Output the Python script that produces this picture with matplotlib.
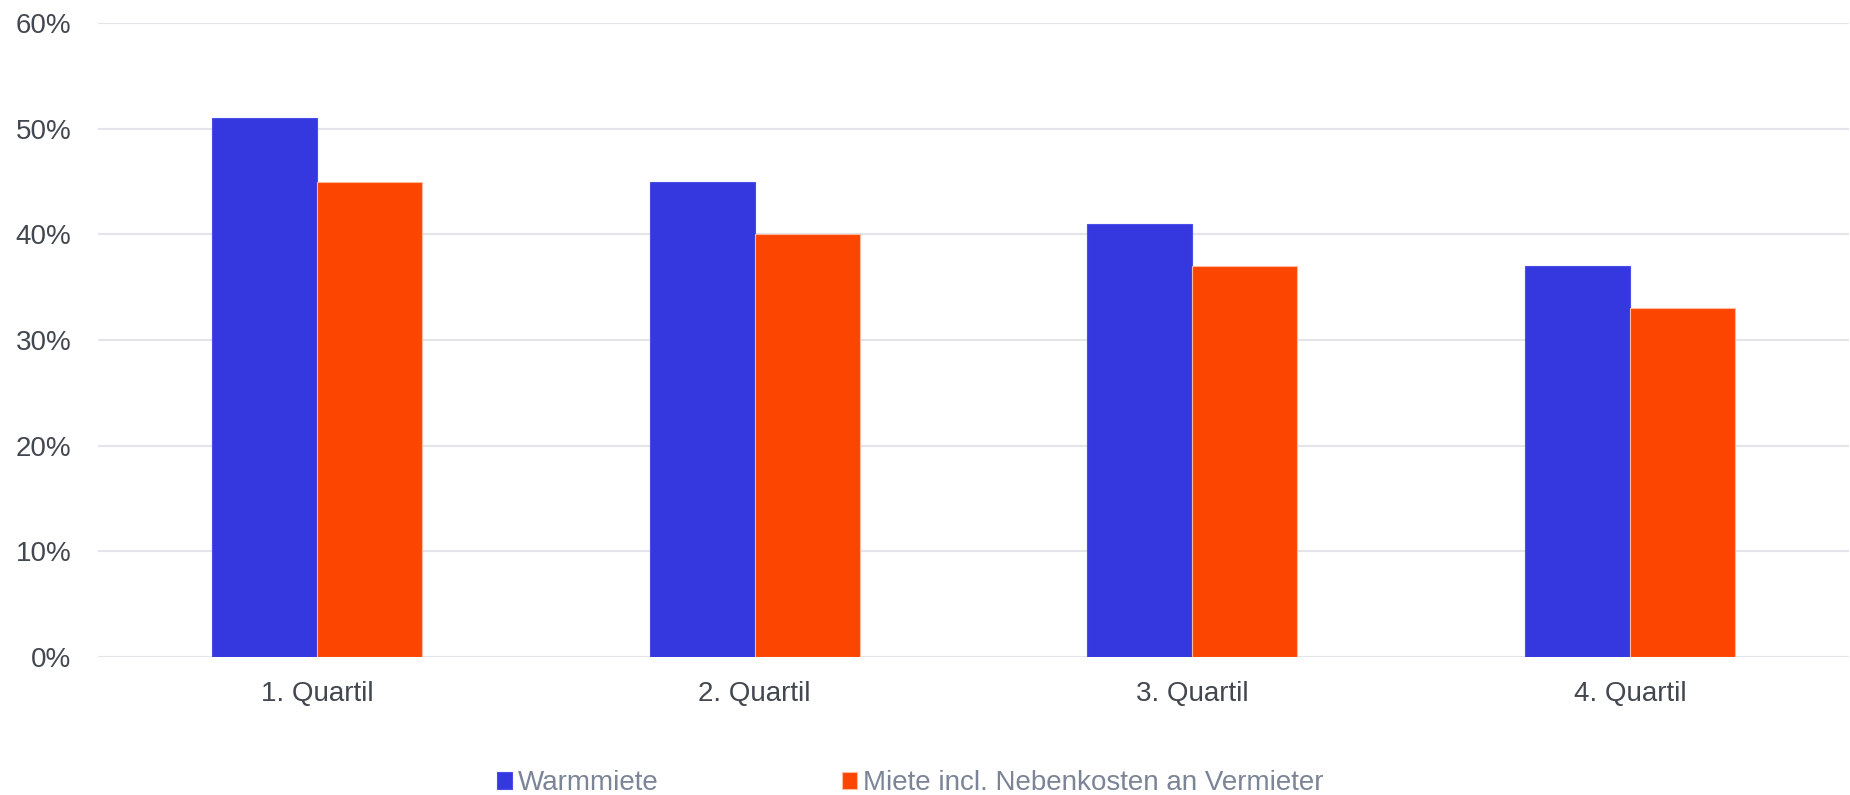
import numpy as np
import matplotlib.pyplot as plt
from matplotlib.ticker import FuncFormatter

# Data
categories = ['1. Quartil', '2. Quartil', '3. Quartil', '4. Quartil']
warmmiete = [51, 45, 41, 37]
miete_vermieter = [45, 40, 37, 33]
series_names = ['Warmmiete', 'Miete incl. Nebenkosten an Vermieter']

plt.rcParams['font.family'] = ['Liberation Sans', 'DejaVu Sans']

fig = plt.figure(figsize=(18.5, 7.95), dpi=100)
ax = fig.add_axes([98 / 1850, 1 - 657 / 795, 1751 / 1850, 634 / 795])

x = np.arange(len(categories))
width = 0.24
ax.bar(x - width / 2, warmmiete, width, color='#3538DE', edgecolor='#4a4de8',
       linewidth=0.8, label=series_names[0], zorder=3)
ax.bar(x + width / 2, miete_vermieter, width, color='#FC4600', edgecolor='#fdb9a0',
       linewidth=0.8, label=series_names[1], zorder=3)

ax.set_xlim(-0.5, 3.5)
ax.set_ylim(0, 60)
ax.set_yticks(np.arange(0, 61, 10))
ax.yaxis.set_major_formatter(FuncFormatter(lambda v, p: f'{v:.0f}%'))
ax.set_xticks(x)
ax.set_xticklabels(categories)

ax.grid(axis='y', color='#e4e4ea', linewidth=1.5, zorder=0)
ax.set_axisbelow(True)
for s in ax.spines.values():
    s.set_visible(False)
ax.tick_params(axis='both', length=0, labelsize=20, labelcolor='#43474f')
ax.tick_params(axis='y', pad=19)
ax.tick_params(axis='x', pad=17)

leg = fig.legend(loc='center left', bbox_to_anchor=(497 / 1850, 1 - 783 / 795),
                 ncol=2, frameon=False, fontsize=20, handlelength=0.55,
                 handleheight=0.55, handletextpad=0.2, columnspacing=6.6,
                 borderpad=0, borderaxespad=0)
for t in leg.get_texts():
    t.set_color('#7c8497')

fig.savefig('out.png', dpi=100)
